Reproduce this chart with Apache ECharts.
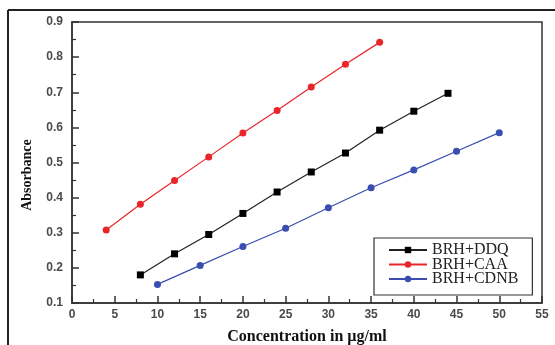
<!DOCTYPE html>
<html>
<head>
<meta charset="utf-8">
<script src="https://cdn.jsdelivr.net/npm/echarts@6/dist/echarts.min.js"></script>
<style>html,body{margin:0;padding:0;background:#fff;}#c{width:555px;height:345px;}</style>
</head>
<body>
<div id="c"></div>
<script>
// Data
const ddqX = [8, 12, 16, 20, 24, 28, 32, 36, 40, 44];
const ddqY = [0.180, 0.240, 0.295, 0.355, 0.416, 0.473, 0.527, 0.592, 0.646, 0.697];
const caaX = [4, 8, 12, 16, 20, 24, 28, 32, 36];
const caaY = [0.308, 0.381, 0.449, 0.516, 0.584, 0.648, 0.715, 0.780, 0.842];
const cdnbX = [10, 15, 20, 25, 30, 35, 40, 45, 50];
const cdnbY = [0.153, 0.207, 0.261, 0.313, 0.371, 0.428, 0.479, 0.532, 0.585];
const seriesNames = ['BRH+DDQ', 'BRH+CAA', 'BRH+CDNB'];
const xTitle = 'Concentration in µg/ml';
const yTitle = 'Absorbance';

const pair = (xs, ys) => xs.map((x, i) => [x, ys[i]]);

const chart = echarts.init(document.getElementById('c'), null, {renderer: 'canvas'});
const tickLabel = {fontFamily: 'Liberation Sans', fontSize: 12, fontWeight: 'bold', color: '#4a4a4a'};
const axisCommon = {
  axisLine: {show: true, onZero: false, lineStyle: {color: '#333', width: 1.5}},
  axisTick: {show: true, inside: true, length: 7, lineStyle: {color: '#333', width: 1.5}},
  minorTick: {show: true, splitNumber: 2, length: 4, lineStyle: {color: '#333', width: 1.2}},
  splitLine: {show: false}
};
chart.setOption({
  animation: false,
  backgroundColor: '#fff',
  grid: {left: 72, top: 22, right: 13, bottom: 42, outerBoundsMode: 'none', containLabel: false,
         show: true, borderColor: '#333', borderWidth: 1.5, backgroundColor: 'transparent'},
  xAxis: Object.assign({
    type: 'value', min: 0, max: 55, interval: 5,
    name: xTitle, nameLocation: 'middle', nameGap: 26,
    nameTextStyle: {fontFamily: 'Liberation Serif', fontSize: 16, fontWeight: 'bold', color: '#111'},
    axisLabel: Object.assign({margin: 6}, tickLabel)
  }, axisCommon),
  yAxis: Object.assign({
    type: 'value', min: 0.1, max: 0.9, interval: 0.1,
    name: yTitle, nameLocation: 'middle', nameGap: 38, nameRotate: 90,
    nameTextStyle: {fontFamily: 'Liberation Serif', fontSize: 14, fontWeight: 'bold', color: '#111', padding: [0, 25, 0, 0]},
    axisLabel: Object.assign({margin: 9, formatter: v => v.toFixed(1)}, tickLabel)
  }, axisCommon),
  legend: {
    left: 374, top: 238, orient: 'vertical',
    data: seriesNames,
    backgroundColor: '#fff', borderColor: '#333', borderWidth: 1.2,
    padding: [4, 14, 8, 14], itemGap: -1.5, itemWidth: 38, itemHeight: 8,
    textStyle: {fontFamily: 'Liberation Serif', fontSize: 16, color: '#222', lineHeight: 13}
  },
  series: [
    {name: seriesNames[0], type: 'line', data: pair(ddqX, ddqY), symbol: 'rect', symbolSize: 7,
     itemStyle: {color: '#000'}, lineStyle: {color: '#222', width: 1.2}},
    {name: seriesNames[1], type: 'line', data: pair(caaX, caaY), symbol: 'circle', symbolSize: 7,
     itemStyle: {color: '#e8262a'}, lineStyle: {color: '#e8262a', width: 1.2}},
    {name: seriesNames[2], type: 'line', data: pair(cdnbX, cdnbY), symbol: 'circle', symbolSize: 7,
     itemStyle: {color: '#3a4db0'}, lineStyle: {color: '#3a4db0', width: 1.2}}
  ],
  graphic: [
    {type: 'line', shape: {x1: 8, y1: 10, x2: 555, y2: 10}, style: {stroke: '#222', lineWidth: 2}},
    {type: 'line', shape: {x1: 8, y1: 10, x2: 8, y2: 345}, style: {stroke: '#222', lineWidth: 2}}
  ]
});
</script>
</body>
</html>
